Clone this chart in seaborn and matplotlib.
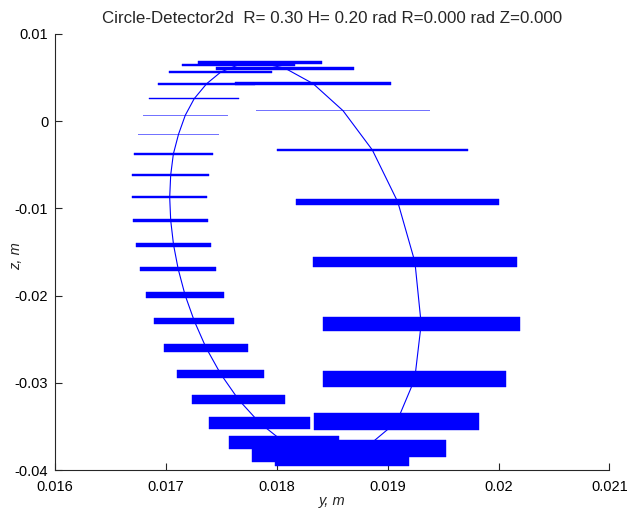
import matplotlib
matplotlib.use("Agg")
import matplotlib.pyplot as plt
import seaborn as sns
import numpy as np
import pandas as pd

# Bars listed around the loop (left side top->bottom, then right side bottom->top, then top)
y_min = [0.017030, 0.016930, 0.016849, 0.016790, 0.016747, 0.016711, 0.016696, 0.016693,
         0.016705, 0.016729, 0.016768, 0.016822, 0.016894, 0.016985, 0.017099, 0.017232,
         0.017391, 0.017571, 0.017773, 0.017984,
         0.018065, 0.018336, 0.018420, 0.018414, 0.018322, 0.018176, 0.017999, 0.017810,
         0.017623, 0.017449, 0.017286, 0.017147]
y_max = [0.017959, 0.017803, 0.017659, 0.017557, 0.017478, 0.017421, 0.017388, 0.017373,
         0.017379, 0.017406, 0.017451, 0.017521, 0.017616, 0.017737, 0.017887, 0.018077,
         0.018300, 0.018564, 0.018841, 0.019196,
         0.019527, 0.019827, 0.020066, 0.020189, 0.020168, 0.020005, 0.019723, 0.019383,
         0.019031, 0.018699, 0.018411, 0.018164]
z_pos = [0.005642, 0.004300, 0.002580, 0.000677, -0.001502, -0.003761, -0.006170, -0.008727,
         -0.011365, -0.014163, -0.016950, -0.019931, -0.022913, -0.025975, -0.028991, -0.031938,
         -0.034610, -0.036846, -0.038337, -0.038911,
         -0.037511, -0.034472, -0.029587, -0.023257, -0.016147, -0.009266, -0.003303, 0.001204,
         0.004300, 0.006067, 0.006709, 0.006479]
thickness = [0.00023, 0.00023, 0.00015, 0.00007, 0.00007, 0.00015, 0.00020, 0.00026,
             0.00034, 0.00042, 0.00049, 0.00061, 0.00077, 0.00092, 0.00100, 0.00107,
             0.00130, 0.00149, 0.00149, 0.00126,
             0.00192, 0.00195, 0.00180, 0.00161, 0.00115, 0.00069, 0.00029, 0.00007,
             0.00029, 0.00029, 0.00029, 0.00023]

title = "Circle-Detector2d  R= 0.30 H= 0.20 rad R=0.000 rad Z=0.000"
xticks = [0.016, 0.017, 0.018, 0.019, 0.02, 0.021]
xtick_labels = ["0.016", "0.017", "0.018", "0.019", "0.02", "0.021"]
yticks = [0.01, 0.0, -0.01, -0.02, -0.03, -0.04]
ytick_labels = ["0.01", "0", "-0.01", "-0.02", "-0.03", "-0.04"]

sns.set_theme(style="white")
plt.rcParams['font.family'] = ['Liberation Sans', 'DejaVu Sans']

df = pd.DataFrame({"ymin": y_min, "ymax": y_max, "z": z_pos, "t": thickness})
df["yc"] = (df["ymin"] + df["ymax"]) / 2
loop = pd.concat([df, df.iloc[[0]]], ignore_index=True)

fig = plt.figure(figsize=(6.35, 5.11), dpi=100)
ax = fig.add_axes([0.0869, 0.0802, 0.9598 - 0.0869, 0.9335 - 0.0802])

for _, r in df.iterrows():
    thin = r["t"] < 0.0001
    ax.barh(r["z"], r["ymax"] - r["ymin"], height=r["t"], left=r["ymin"],
            color="#0000ff", edgecolor="#0000ff" if not thin else "none",
            linewidth=0.3 if not thin else 0, alpha=1.0 if not thin else 0.55)

sns.lineplot(data=loop, x="yc", y="z", sort=False, color="#0000ff", linewidth=0.8,
             ax=ax, estimator=None)

ax.set_xlim(0.016, 0.021)
ax.set_ylim(-0.04, 0.01)
ax.set_xticks(xticks)
ax.set_xticklabels(xtick_labels)
ax.set_yticks(yticks)
ax.set_yticklabels(ytick_labels)
ax.tick_params(direction="in", length=5, width=0.8, colors="#262626",
               labelsize=10.5, labelcolor="black", bottom=True, left=True)
ax.tick_params(axis="x", pad=7)
ax.tick_params(axis="y", pad=5)
for s in ["top", "right"]:
    ax.spines[s].set_visible(False)
for s in ["left", "bottom"]:
    ax.spines[s].set_color("#262626")
    ax.spines[s].set_linewidth(0.8)
ax.set_xlabel("y, m", fontstyle="italic", fontsize=10.5, labelpad=0)
ax.set_ylabel("z, m", fontstyle="italic", fontsize=10.5)
ax.yaxis.set_label_coords(-0.058, 0.49)
ax.set_title(title, fontsize=12.2, pad=8)
ax.grid(False)

fig.savefig("out.png", dpi=100)
